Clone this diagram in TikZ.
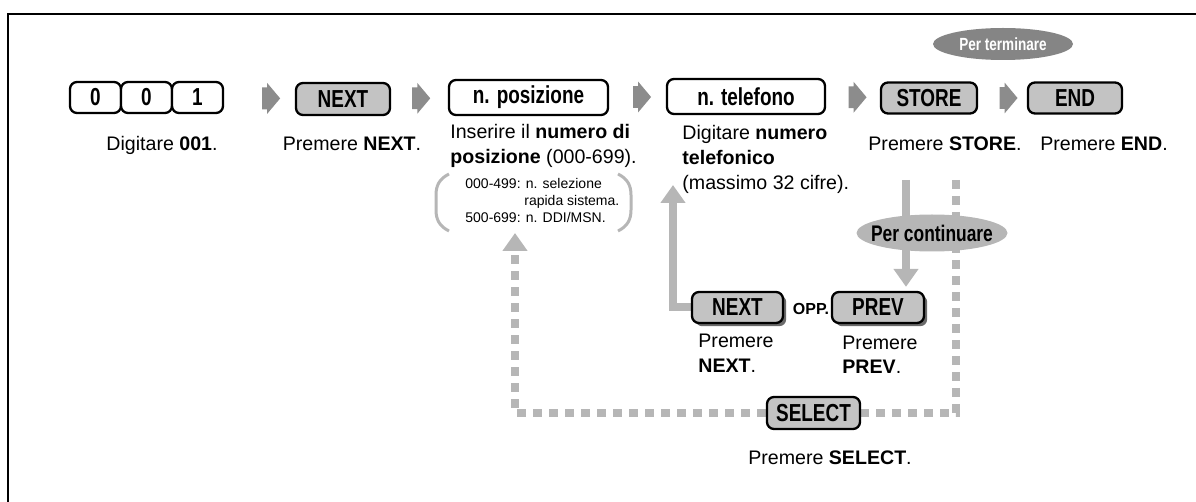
\documentclass[tikz,border=0pt]{standalone}
\usepackage{fontspec}
\setmainfont{Liberation Sans}
\newfontfamily\condfont[FakeStretch=0.77]{Liberation Sans}
\usetikzlibrary{shapes.geometric,shapes.arrows,arrows.meta,calc,shadows,backgrounds}
\definecolor{keygray}{HTML}{C3C3C3}
\definecolor{arrgray}{HTML}{8C8C8C}
\definecolor{lgray}{HTML}{B6B6B6}
\definecolor{dgray}{HTML}{858585}
\definecolor{shadowgray}{HTML}{6A6A6A}
\begin{document}
\begin{tikzpicture}[x=0.5pt,y=-0.5pt,
  key/.style={draw=black, line width=1.15pt, rounded corners=3.5pt, inner sep=0pt,
    font=\condfont\bfseries\fontsize{12.3}{13}\selectfont},
  whitekey/.style={key, fill=white},
  graykey/.style={key, fill=keygray},
  shadowed/.style={drop shadow={shadow xshift=1.6pt, shadow yshift=-1.6pt, fill=shadowgray, opacity=1}},
  txt/.style={inner sep=0pt, font=\fontsize{9.8}{12.4}\selectfont},
  small/.style={inner sep=0pt, font=\fontsize{7}{8.5}\selectfont},
  flowarr/.style={single arrow, fill=arrgray, draw=none, inner xsep=0pt, inner ysep=5.25pt,
    minimum height=9pt, single arrow head extend=2.25pt, single arrow tip angle=100,
    single arrow head indent=0pt},
  solidconn/.style={draw=lgray, line width=4pt},
  dashconn/.style={draw=lgray, line width=4pt, dash pattern=on 4.5pt off 3.5pt},
  tip/.style={-{Triangle[width=12pt,length=9pt]}}
]
\useasboundingbox (0,0) rectangle (1196,502);
% frame
\draw[line width=1.2pt] (1200,14) -- (8,14) -- (8,506);

% top row keys
\node[whitekey, minimum width=25.5pt, minimum height=15.5pt] (k0a) at (95.5,97.5) {0};
\node[whitekey, minimum width=25.5pt, minimum height=15.5pt] (k0b) at (146.5,97.5) {0};
\node[whitekey, minimum width=25.5pt, minimum height=15.5pt] (k1) at (197.5,97.5) {1};
\node[graykey, minimum width=47pt, minimum height=16pt] (nextA) at (343,99) {NEXT};
\node[whitekey, minimum width=79.5pt, minimum height=17.5pt] (posiz) at (528.5,97.5) {n. posizione};
\node[whitekey, minimum width=79pt, minimum height=17.5pt] (telef) at (746,96.5) {n. telefono};
\node[graykey, minimum width=48pt, minimum height=15.5pt] (store) at (929,98) {STORE};
\node[graykey, minimum width=47pt, minimum height=15.5pt] (endk) at (1075,98) {END};

% flow arrows
\node[flowarr] (a1) at ($(k1.east)!0.6!(nextA.west)$) {};
\node[flowarr] (a2) at ($(nextA.east)!0.45!(posiz.west)$) {};
\node[flowarr] (a3) at ($(posiz.east)!0.5!(telef.west)$) {};
\node[flowarr] (a4) at ($(telef.east)!0.5!(store.west)$) {};
\node[flowarr] (a5) at ($(store.east)!0.53!(endk.west)$) {};

% Per terminare
\fill[dgray] (1003,44) ellipse [x radius=70, y radius=16];
\node[inner sep=0pt, text=white, font=\condfont\bfseries\fontsize{8.8}{10}\selectfont] (term) at (1003,44) {Per terminare};

% texts row 1
\node[txt, anchor=base] (t1) at (162,151) {Digitare \textbf{001}.};
\node[txt, anchor=base] (t2) at (352,151) {Premere \textbf{NEXT}.};
\node[txt, anchor=base west] (t3a) at (450,139) {Inserire il \textbf{numero di}};
\node[txt, anchor=base west] (t3b) at (450,164) {\textbf{posizione} (000-699).};
\node[txt, anchor=base west] (t4a) at (682,140) {Digitare \textbf{numero}};
\node[txt, anchor=base west] (t4b) at (682,165) {\textbf{telefonico}};
\node[txt, anchor=base west] (t4c) at (682,190) {(massimo 32 cifre).};
\node[txt, anchor=base] (t5) at (945,151) {Premere \textbf{STORE}.};
\node[txt, anchor=base] (t6) at (1104,151) {Premere \textbf{END}.};

% note with brackets
\draw[lgray, line width=1.5pt] (449,174) .. controls (439,179) and (436,186) .. (436,195) -- (436,210) .. controls (436,219) and (439,226) .. (449,231);
\draw[lgray, line width=1.5pt] (618,174) .. controls (628,179) and (631,186) .. (631,195) -- (631,210) .. controls (631,219) and (628,226) .. (618,231);
\node[small, anchor=base west] (n1) at (465,189) {000-499: n. selezione};
\node[small, anchor=base west] (n2) at (524,206) {rapida sistema.};
\node[small, anchor=base west] (n3) at (465,223) {500-699: n. DDI/MSN.};

% lower row
\node[graykey, shadowed, minimum width=45.5pt, minimum height=15.5pt] (nextB) at (737.5,307.5) {NEXT};
\node[inner sep=0pt, font=\bfseries\fontsize{8}{9}\selectfont] (opp) at (811,309) {OPP.};
\node[graykey, shadowed, minimum width=46pt, minimum height=15.5pt] (prevB) at (878,307.5) {PREV};
\node[txt, anchor=base west] (t7a) at (698,348) {Premere};
\node[txt, anchor=base west] (t7b) at (698,373) {\textbf{NEXT}.};
\node[txt, anchor=base west] (t8a) at (842,350) {Premere};
\node[txt, anchor=base west] (t8b) at (842,374) {\textbf{PREV}.};

\node[graykey, minimum width=46.5pt, minimum height=16pt] (sel) at (813.5,413) {SELECT};
\node[txt, anchor=base] (t9) at (830,465) {Premere \textbf{SELECT}.};

% Per continuare
\fill[lgray] (932,233) ellipse [x radius=75.5, y radius=18.5];
\node[inner sep=0pt, font=\condfont\bfseries\fontsize{11.3}{12}\selectfont] (cont) at (932,233) {Per continuare};

% connectors
\coordinate (solidTop) at (906,180);
\coordinate (dashTop) at (956,180);
\coordinate (telArrow) at (673,185);
\coordinate (dashEnd) at (515,233);
\begin{scope}[on background layer]
  \draw[solidconn, tip, shorten >=2pt] (solidTop) -- (solidTop |- prevB.north);
  \draw[solidconn, tip] (nextB.west) -| (telArrow);
  \draw[dashconn] (dashTop) |- (sel.east);
  \draw[dashconn, tip] (sel.west) -| (dashEnd);
\end{scope}
\end{tikzpicture}
\end{document}
